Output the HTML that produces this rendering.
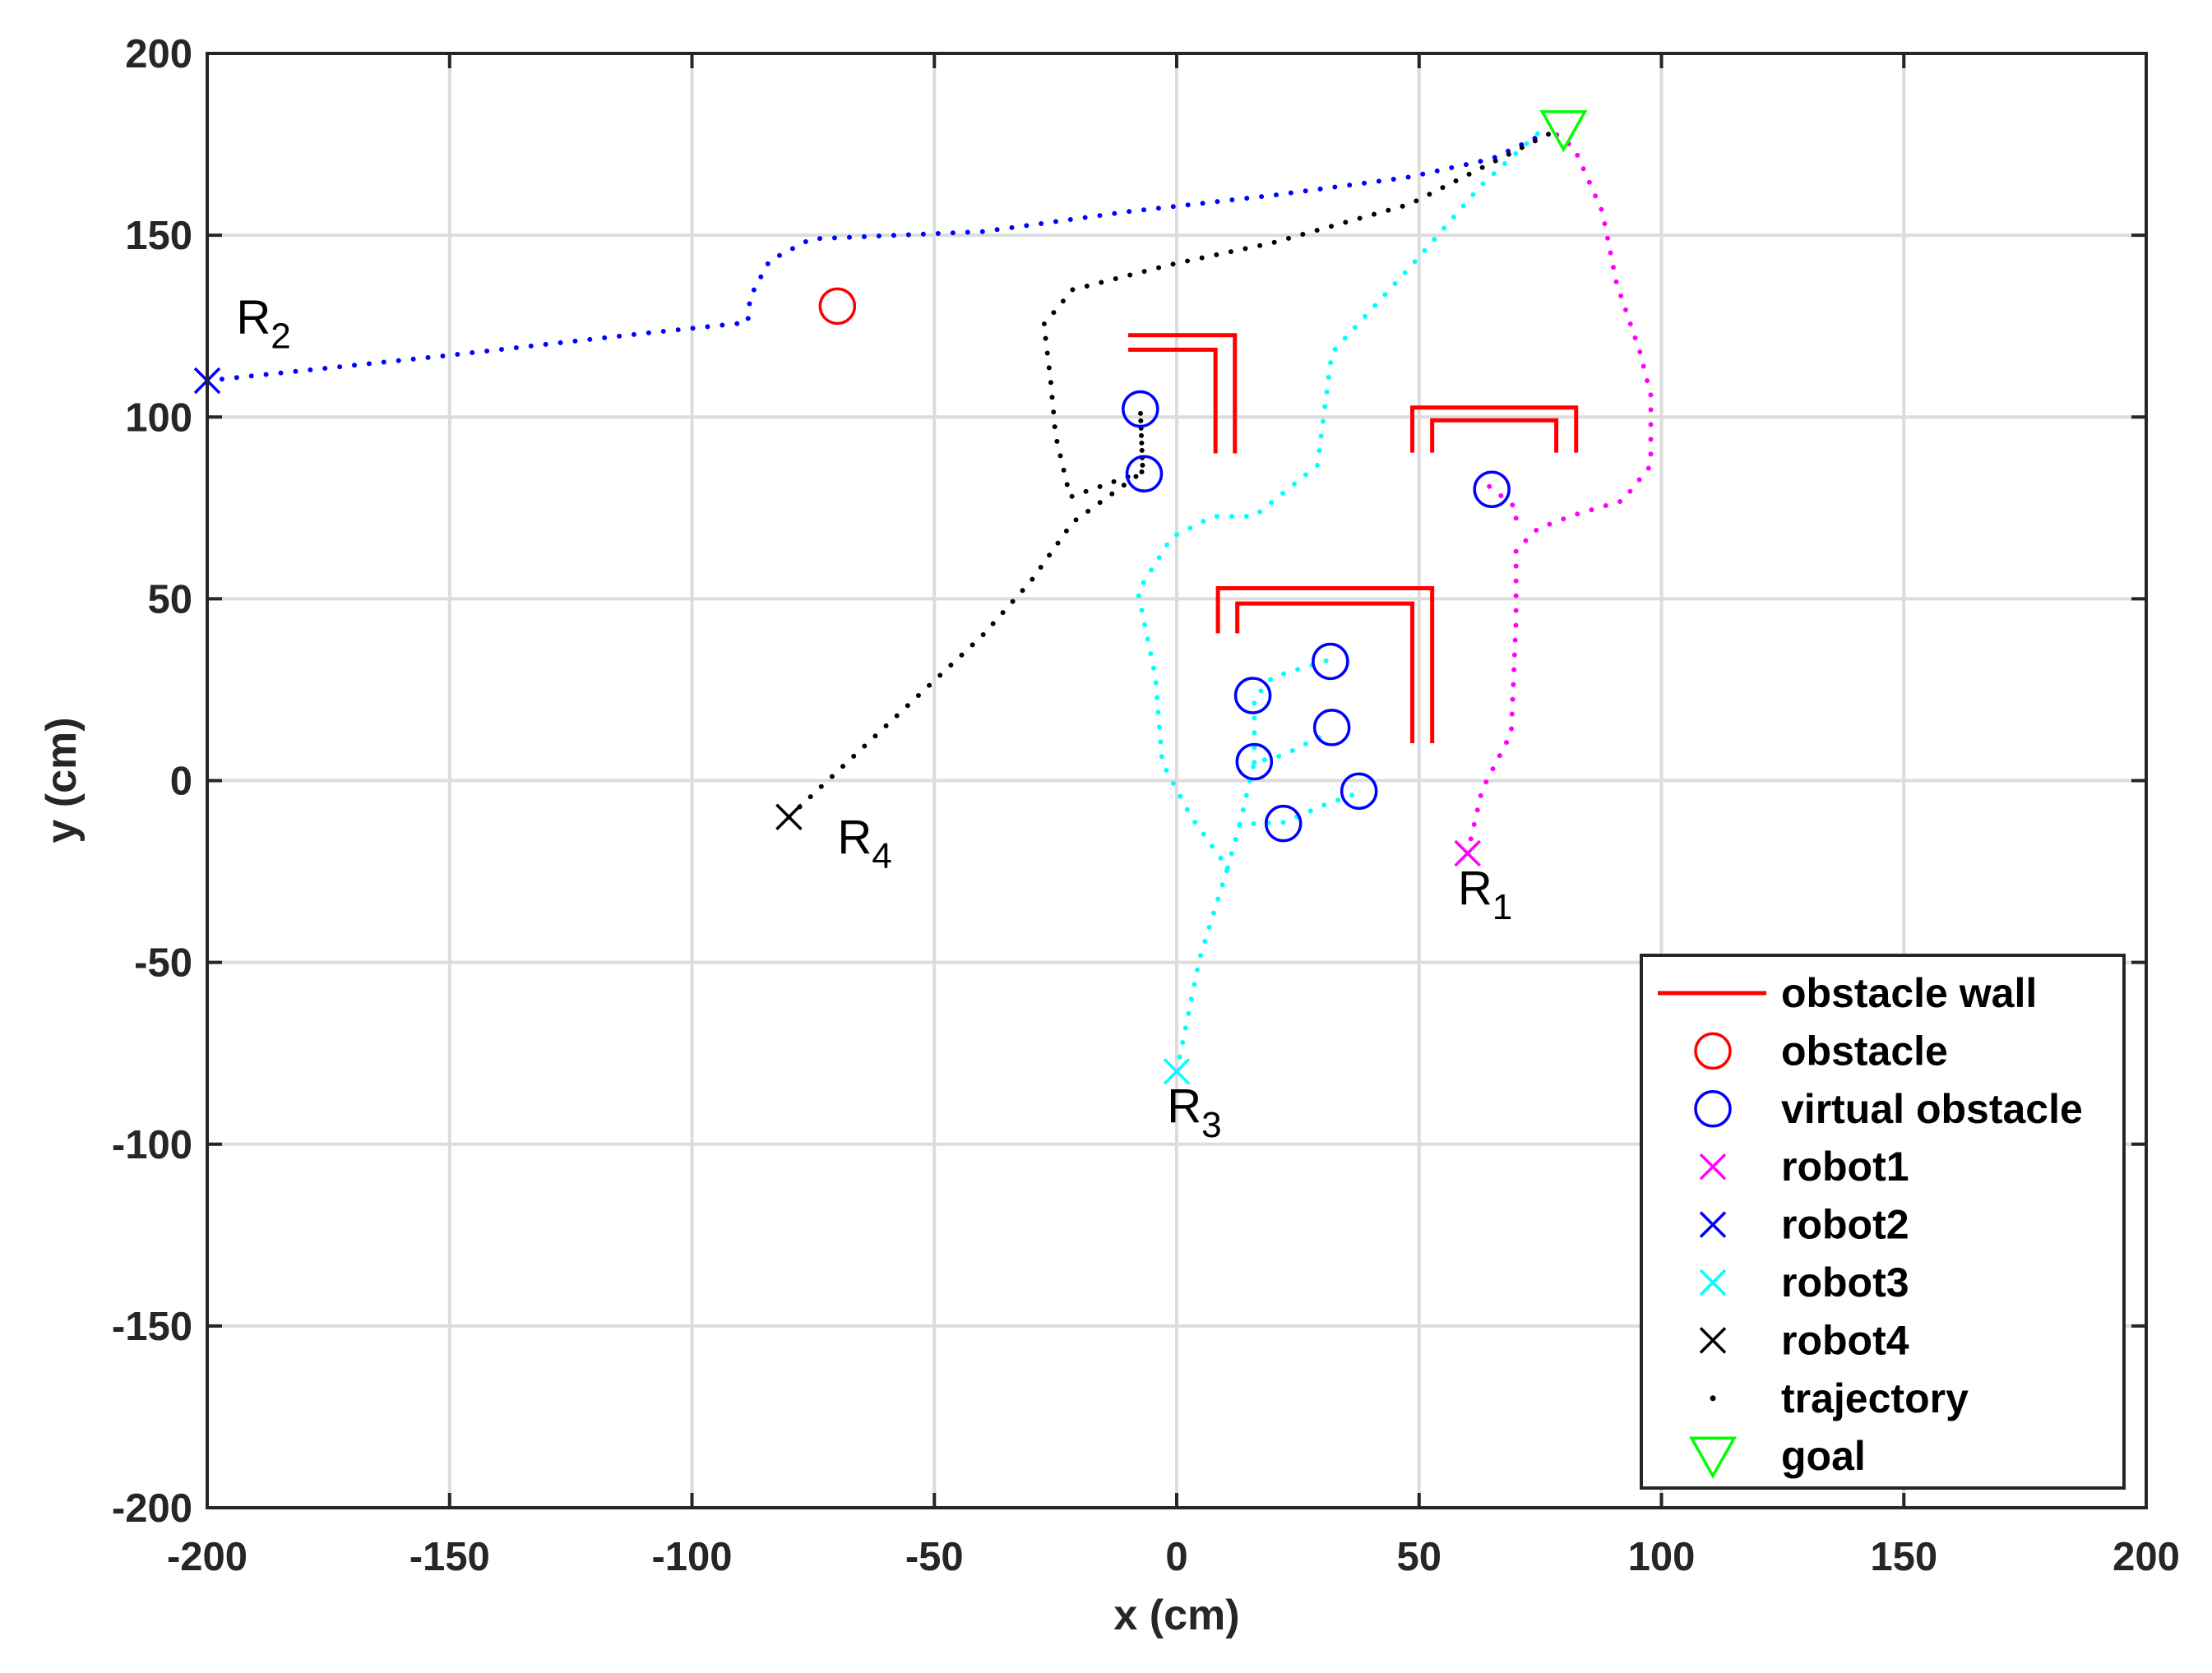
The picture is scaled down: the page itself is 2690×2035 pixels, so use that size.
<!DOCTYPE html>
<html><head><meta charset="utf-8"><style>
html,body{margin:0;padding:0;background:#fff}
svg{display:block;font-family:"Liberation Sans",Arial,sans-serif}
</style></head><body>
<svg id="chart" width="2690" height="2035" viewBox="0 0 2690 2035" xmlns="http://www.w3.org/2000/svg">
<rect width="2690" height="2035" fill="#fff"/>
<g id="grid"></g>
<g id="walls"></g>
<g id="traj"></g>
<g id="marks"></g>
<g id="axes"></g>
<text x="1431" y="1982" text-anchor="middle" font-weight="bold" font-size="52" fill="#262626">x (cm)</text>
<text transform="translate(92,949) rotate(-90)" text-anchor="middle" font-weight="bold" font-size="52" fill="#262626">y (cm)</text>
<g id="legend"></g>
</svg>
<script>
const xTicks=[-200,-150,-100,-50,0,50,100,150,200];
const yTicks=[-200,-150,-100,-50,0,50,100,150,200];
const robot1X=[60,63,69,70,70,74.5,81.8,92,97.8,97.8,95.6,90.7,87.8,82,76];
const robot1Y=[-20,-2.5,13,44,63.4,69.3,73,77,86.7,106,117.7,137,156.5,174,180];
const robot1TailX=[64.5,70,70];
const robot1TailY=[80.9,75,70];
const robot2X=[-200,-150,-110,-88.5,-88,-84,-75.4,-40,-10,20,48,65,76];
const robot2Y=[110,117,123,126,133,143,149,151,156.5,161,166,171,178];
const robot3X=[0,4.7,10.5,3,-3,-4.4,-8,-1,7.6,16,29,32,48,63,74.5];
const robot3Y=[-80,-49,-24,-10,5,28.5,52,67,72.7,72.7,86.7,117.7,141,164,178];
const robot3BranchAX=[10.5,13,22,31,37.6];
const robot3BranchAY=[-24,-12,-11.5,-6.4,-3.3];
const robot3BranchBX=[13,16,22,32];
const robot3BranchBY=[-12,5,7,13.7];
const robot3BranchCX=[16,16,19.8,31];
const robot3BranchCY=[5,22.6,28.5,33];
const robot4X=[-80,-60,-40,-30,-21.5,-7,-7.5,-7,-22,-25,-26,-27.4,-21.5,-1,20,48,77];
const robot4Y=[-10,15,40,55,71,85,102,85,78,95,110,125.5,135,142,148,158.5,178];
const vObsX=[-7.5,-6.7,15.7,31.7,32,16,22,37.6,65];
const vObsY=[102.2,84.4,23.4,32.8,14.6,5.2,-11.8,-2.9,80.1];
const obsX=[-70], obsY=[130.5];
const startX=[60,-200,0,-80], startY=[-20,110,-80,-10];
const goalX=[79.8], goalY=[179];
const wallsX=[[-10,12,12],[-10,8,8],[48.6,48.6,82.4,82.4],[52.7,52.7,78.3,78.3],[8.5,8.5,52.7,52.7],[12.5,12.5,48.6,48.6]];
const wallsY=[[122.5,122.5,90],[118.5,118.5,90],[90.2,102.6,102.6,90.2],[90.2,99.1,99.1,90.2],[40.5,52.9,52.9,10.3],[40.5,48.7,48.7,10.3]];
const labelText=['R','R','R','R'], labelSub=['1','2','3','4'];
const labelX=[58,-194,-2,-70], labelY=[-34,123,-94,-20];

const L=252,R=2610,T=65,B=1834;
const sx=v=>L+(v+200)/400*(R-L);
const sy=v=>B-(v+200)/400*(B-T);
const NS='http://www.w3.org/2000/svg';
function mk(tag,parent,attrs){const e=document.createElementNS(NS,tag);for(const k in attrs)e.setAttribute(k,attrs[k]);parent.appendChild(e);return e;}
const grid=document.getElementById('grid'),axes=document.getElementById('axes');
xTicks.forEach(t=>{
 const g=mk('line',grid,{x1:sx(t),x2:sx(t),y1:T,y2:B,stroke:'#dcdcdc','stroke-width':4});
 
 
 mk('line',axes,{x1:sx(t),x2:sx(t),y1:B,y2:B-18,stroke:'#262626','stroke-width':4});
 mk('line',axes,{x1:sx(t),x2:sx(t),y1:T,y2:T+18,stroke:'#262626','stroke-width':4});
 const tx=mk('text',axes,{x:sx(t),y:1910,'text-anchor':'middle','font-size':49,'font-weight':'bold',fill:'#262626'});
 tx.textContent=t;
 
 
});
yTicks.forEach(t=>{
 const g=mk('line',grid,{x1:L,x2:R,y1:sy(t),y2:sy(t),stroke:'#dcdcdc','stroke-width':4});
 
 
 mk('line',axes,{x1:L,x2:L+18,y1:sy(t),y2:sy(t),stroke:'#262626','stroke-width':4});
 mk('line',axes,{x1:R,x2:R-18,y1:sy(t),y2:sy(t),stroke:'#262626','stroke-width':4});
 const tx=mk('text',axes,{x:234,y:sy(t)+17,'text-anchor':'end','font-size':49,'font-weight':'bold',fill:'#262626'});
 tx.textContent=t;
 
 
});
const box=mk('rect',axes,{x:L,y:T,width:R-L,height:B-T,fill:'none',stroke:'#262626','stroke-width':4});



const walls=document.getElementById('walls');
wallsX.forEach((xs,i)=>{
 const p=mk('polyline',walls,{points:xs.map((x,j)=>sx(x)+','+sy(wallsY[i][j])).join(' '),fill:'none',stroke:'#ff0000','stroke-width':5});
 
 
});
const traj=document.getElementById('traj');
function dotted(xs,ys,col,name){
 const p=mk('polyline',traj,{points:xs.map((x,j)=>sx(x)+','+sy(ys[j])).join(' '),fill:'none',stroke:col,'stroke-width':6,'stroke-linecap':'round','stroke-dasharray':'0 18'});
 
 
}
dotted(robot1X,robot1Y,'#ff00ff','robot1-trajectory');
dotted(robot1TailX,robot1TailY,'#ff00ff','robot1-trajectory-tail');
dotted(robot2X,robot2Y,'#0000ff','robot2-trajectory');
dotted(robot3X,robot3Y,'#00ffff','robot3-trajectory');
dotted(robot3BranchAX,robot3BranchAY,'#00ffff','robot3-branch');
dotted(robot3BranchBX,robot3BranchBY,'#00ffff','robot3-branch');
dotted(robot3BranchCX,robot3BranchCY,'#00ffff','robot3-branch');
dotted(robot4X,robot4Y,'#000000','robot4-trajectory');

const marks=document.getElementById('marks');
vObsX.forEach((x,i)=>{
 const c=mk('circle',marks,{cx:sx(x),cy:sy(vObsY[i]),r:21,fill:'none',stroke:'#0000ff','stroke-width':3.5});
 
 
});
obsX.forEach((x,i)=>{
 const c=mk('circle',marks,{cx:sx(x),cy:sy(obsY[i]),r:21,fill:'none',stroke:'#ff0000','stroke-width':3.5});
 
 
});
const rcol=['#ff00ff','#0000ff','#00ffff','#000000'];
function cross(parent,cx,cy,col){
 return mk('path',parent,{d:`M${cx-15},${cy-15}L${cx+15},${cy+15}M${cx-15},${cy+15}L${cx+15},${cy-15}`,stroke:col,'stroke-width':3.5,fill:'none'});
}
startX.forEach((x,i)=>{
 const g=cross(marks,sx(x),sy(startY[i]),rcol[i]);
 
 
});
function tri(parent,cx,cy){return mk('polygon',parent,{points:`${cx-26},${cy-22} ${cx+26},${cy-22} ${cx},${cy+24}`,fill:'none',stroke:'#00ff00','stroke-width':3.5});}
goalX.forEach((x,i)=>{
 const g=tri(marks,sx(x),sy(goalY[i]));
 
 
});
labelX.forEach((x,i)=>{
 const t=mk('text',marks,{x:sx(x),y:sy(labelY[i]),'font-size':58,fill:'#000'});
 t.textContent=labelText[i];
 const s=mk('tspan',t,{dy:18,'font-size':44});
 s.textContent=labelSub[i];
 
 
});

const lg=document.getElementById('legend');
mk('rect',lg,{x:1996,y:1162,width:587,height:648,fill:'#fff',stroke:'#262626','stroke-width':4});
const lNames=['obstacle wall','obstacle','virtual obstacle','robot1','robot2','robot3','robot4','trajectory','goal'];
lNames.forEach((n,i)=>{
 const cy=1208+i*70.4, cx=2083;
 const g=mk('g',lg,{});
 
 
 if(i===0)mk('line',g,{x1:2016,x2:2148,y1:cy,y2:cy,stroke:'#ff0000','stroke-width':5});
 else if(i===1)mk('circle',g,{cx,cy,r:21,fill:'none',stroke:'#ff0000','stroke-width':3.5});
 else if(i===2)mk('circle',g,{cx,cy,r:21,fill:'none',stroke:'#0000ff','stroke-width':3.5});
 else if(i<=6)cross(g,cx,cy,rcol[i-3]);
 else if(i===7)mk('circle',g,{cx,cy,r:3.5,fill:'#000'});
 else tri(g,cx,cy);
 const t=mk('text',g,{x:2166,y:cy+17,'font-size':50,'font-weight':'bold',fill:'#000'});
 t.textContent=n;
});
</script>
</body></html>
